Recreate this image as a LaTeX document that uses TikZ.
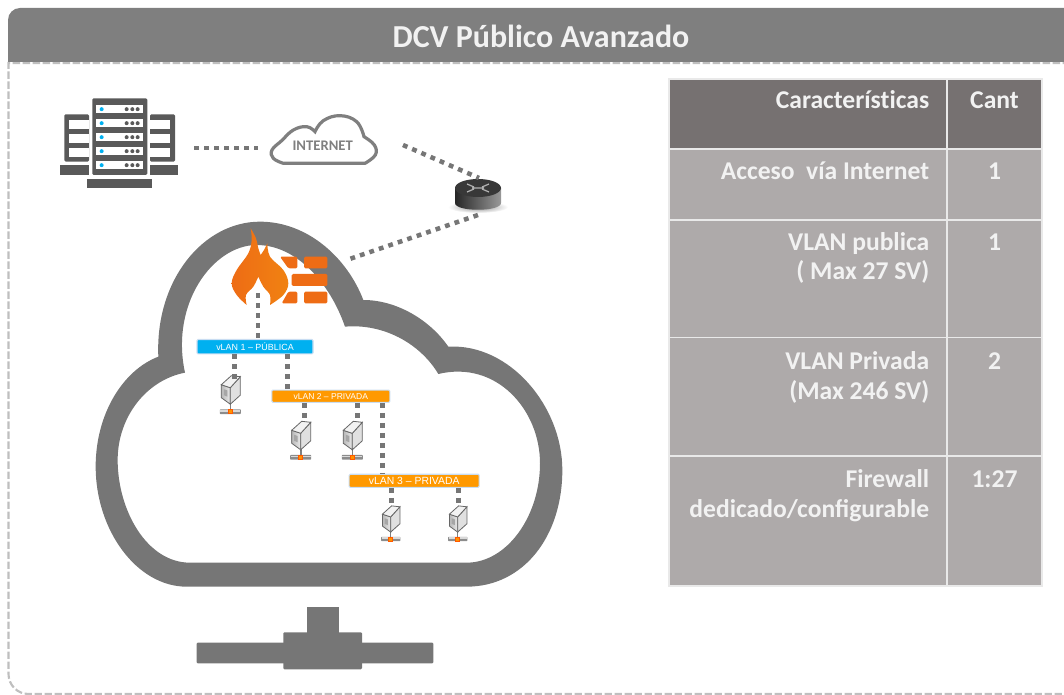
\documentclass[tikz,border=0pt]{standalone}
\usepackage{fontspec}
\setmainfont{Carlito}
\newfontfamily\arialf{Liberation Sans}
\usetikzlibrary{calc}
\definecolor{cloudgray}{HTML}{767676}
\definecolor{titlegray}{HTML}{7F7F7F}
\definecolor{panelgray}{HTML}{BFBFBF}
\definecolor{headgray}{HTML}{767171}
\definecolor{bodygray}{HTML}{AEAAAA}
\definecolor{linegray}{HTML}{E9E9E9}
\definecolor{icongray}{HTML}{595959}
\definecolor{fireor}{HTML}{EE6C15}
\definecolor{vcyan}{HTML}{00B0F0}
\definecolor{vorange}{HTML}{FF9900}
\definecolor{vedge}{HTML}{C9DDF2}
\tikzset{
  dotline/.style={draw=cloudgray,line width=3.4pt,dash pattern=on 3.6pt off 3.9pt},
  vlanbar/.style={rounded corners=.8pt,draw=vedge,line width=.8pt,text=white,inner sep=0pt,anchor=center},
  headcell/.style={fill=headgray,draw=linegray,line width=1.4pt},
  bodycell/.style={fill=bodygray,draw=linegray,line width=1.4pt},
  celltext/.style={text=white!95!black,font=\bfseries\fontsize{19.2}{22}\selectfont,anchor=base east,inner sep=0pt},
  cntext/.style={text=white!95!black,font=\bfseries\fontsize{19.2}{22}\selectfont,anchor=base,inner sep=0pt},
  pics/srv/.style={code={
    \fill[black!50] (-.8,-9) rectangle (.8,-1);
    \shade[left color=black!28,right color=black!8,draw=black!60,line width=.6pt] (-9,-27) -- (0,-24) -- (0,-7.5) -- (-9,-14) -- cycle;
    \draw[line width=.6pt,black!60,fill=black!12] (0,-24) -- (10,-35) -- (10,-16.5) -- (0,-7.5) -- cycle;
    \draw[line width=.6pt,black!60,fill=black!5] (-9,-27) -- (1,-36) -- (10,-35) -- (0,-24) -- cycle;
    \fill[black!35] (-6.5,-22.5) -- (-3,-21.3) -- (-3,-15) -- (-6.5,-16.5) -- cycle;
    \fill[black!45,rounded corners=.5pt] (-10.5,-2.4) rectangle (10.5,2.4);
    \fill[black!15] (-10,-1.8) rectangle (10,-.2);
    \fill[orange!85!yellow,draw=orange!70!red,line width=.7pt] (-2.2,-2.2) rectangle (2.2,2.2);
  }}
}
\begin{document}
\begin{tikzpicture}[x=.75pt,y=-.75pt]
\useasboundingbox (0,0) rectangle (1064,695);
% panel
\draw[panelgray,line width=1.6pt,dash pattern=on 5.5pt off 2pt,rounded corners=15pt]
  (1070,63) [sharp corners] -- (8.5,63) [rounded corners=15pt] -- (8.5,694) [sharp corners] -- (1070,694);
% title
\fill[titlegray] (8,62) [rounded corners=9pt] -- (8,8) [sharp corners] -- (1066,8) -- (1066,62) -- cycle;
\node[text=white!95!black,font=\bfseries\fontsize{24}{28}\selectfont,inner sep=0pt,anchor=base] (title) at (541,47.5) {DCV Público Avanzado};
% big cloud
\begin{scope}[shift={(80,210)},x=.25pt,y=-.25pt]
\fill[cloudgray,even odd rule]
 (235,440) .. controls (225,210) and (370,35) .. (540,35)
 .. controls (680,35) and (800,140) .. (850,270)
 .. controls (950,270) and (1050,330) .. (1105,410)
 .. controls (1290,400) and (1447,590) .. (1447,780)
 .. controls (1447,980) and (1330,1130) .. (1160,1130)
 -- (320,1130)
 .. controls (170,1130) and (47,960) .. (47,770)
 .. controls (47,610) and (130,480) .. (235,440) -- cycle
 (315,488) .. controls (270,280) and (400,105) .. (530,105)
 .. controls (650,105) and (750,220) .. (795,350)
 .. controls (910,340) and (1020,400) .. (1075,492)
 .. controls (1250,450) and (1380,600) .. (1380,760)
 .. controls (1380,920) and (1280,1058) .. (1160,1058)
 -- (330,1058)
 .. controls (200,1058) and (113,900) .. (113,750)
 .. controls (113,620) and (200,510) .. (315,488) -- cycle;
\end{scope}
% stand
\fill[cloudgray,rounded corners=.8pt] (196.7,642.7) rectangle (433.3,663.3);
\fill[cloudgray,rounded corners=.8pt] (283.3,632.3) rectangle (362,669.3);
\fill[cloudgray] (306.7,606.7) rectangle (339.3,633);
% firewall
\begin{scope}[shift={(220,220)},x=.25pt,y=-.25pt]
\fill[fireor,rounded corners=1pt] (180,110) -- (232,110) -- (232,145) -- (205,145) -- cycle;
\fill[fireor,rounded corners=1pt] (252,110) rectangle (322,145);
\fill[fireor,rounded corners=1pt] (215,162) rectangle (322,198);
\fill[fireor,rounded corners=1pt] (205,215) -- (232,215) -- (232,250) -- (185,250) -- cycle;
\fill[fireor,rounded corners=1pt] (252,215) rectangle (322,250);
\shade[left color=fireor,right color=fireor!85!yellow,draw=none]
 plot[smooth,tension=.6] coordinates {(92,25)(108,55)(115,85)(122,105)}
 -- plot[smooth,tension=.6] coordinates {(122,105)(132,90)(142,70)}
 -- plot[smooth,tension=.6] coordinates {(142,70)(150,110)(190,150)(205,190)(190,225)(150,255)}
 -- plot[smooth,tension=.6] coordinates {(150,255)(150,225)(130,200)(115,170)}
 -- plot[smooth,tension=.6] coordinates {(115,170)(100,200)(78,225)(80,255)}
 -- plot[smooth,tension=.6] coordinates {(80,255)(50,225)(35,190)(50,150)(85,100)(95,60)(92,25)}
 -- cycle;
\end{scope}
\coordinate (fw) at (258,293);
\coordinate (fwright) at (346.7,260);
% big server icon
\begin{scope}[shift={(40,80)},x=.25pt,y=-.25pt]
\fill[icongray,rounded corners=1pt] (157,55) rectangle (322,285);
\foreach \y in {75,117,159,201,243}{
  \fill[white] (168,\y) rectangle (310,\y+25);
  \fill[vcyan] (185,\y+12.5) circle[radius=6];
  \foreach \x in {260,277,293} \fill[icongray] (\x,\y+12.5) circle[radius=6];
}
\fill[icongray,rounded corners=1pt] (73,103) rectangle (147,245);
\fill[icongray,rounded corners=1pt] (330,103) rectangle (405,245);
\foreach \y in {120,163,205}{
  \fill[white] (87,\y) rectangle (147,\y+27);
  \fill[white] (330,\y) rectangle (391,\y+27);
}
\fill[icongray] (60,256) rectangle (147,285);
\fill[icongray] (330,256) rectangle (415,285);
\fill[icongray] (140,297) rectangle (337,325);
\end{scope}
\coordinate (bigsrv) at (194,148);
% small cloud
\begin{scope}[shift={(40,80)},x=.25pt,y=-.25pt]
\draw[titlegray,line width=2.4pt] plot[smooth,tension=.7] coordinates {(730,250)(700,235)(696,210)(725,182)(760,150)(800,140)(825,155)}
 -- plot[smooth,tension=.7] coordinates {(825,155)(850,122)(900,107)(950,125)(972,170)}
 -- plot[smooth,tension=.7] coordinates {(972,170)(1003,195)(1006,225)(975,250)} -- cycle;
\node[text=titlegray,font=\bfseries\fontsize{11}{13}\selectfont,inner sep=0pt] (internet) at (848,197) {INTERNET};
\end{scope}
\coordinate (inetL) at (258,148);
\coordinate (inetR) at (403,145);
% router
\shade[inner color=black!45,outer color=white] (478,207) ellipse[x radius=30,y radius=6];
\shade[left color=black!85,right color=black!40] (455,188) -- (455,203) .. controls (455,212) and (501,212) .. (501,203) -- (501,188) -- cycle;
\fill[black!78] (478,188) ellipse[x radius=23,y radius=9];
\draw[black!30,line width=.9pt] (467,184) -- (474,187) (467,192) -- (474,189) (489,184) -- (482,187) (489,192) -- (482,189) (472,188) -- (484,188);
\coordinate (routerT) at (479,178);
\coordinate (routerB) at (478,215);
% vlan bars
\node[vlanbar,fill=vcyan,minimum width=87pt,minimum height=10.8pt,font=\arialf\fontsize{6.7}{8}\selectfont] (v1) at (255,346.7) {vLAN 1 – PÚBLICA};
\node[vlanbar,fill=vorange,minimum width=88.5pt,minimum height=9.2pt,font=\arialf\fontsize{6.4}{8}\selectfont] (v2) at (330.8,396.2) {vLAN 2 – PRIVADA};
\node[vlanbar,fill=vorange,minimum width=97.5pt,minimum height=9.8pt,font=\arialf\fontsize{7.8}{9}\selectfont] (v3) at (414.2,480.8) {vLAN 3 – PRIVADA};
% servers
\pic at (230.3,411.7) {srv};
\pic at (300.7,457.3) {srv};
\pic at (352.3,457.3) {srv};
\pic[scale=.92] at (390.7,539) {srv};
\pic[scale=.92] at (457.7,539) {srv};
\coordinate (s1) at (234.3,380);
\coordinate (s2) at (304.3,421);
\coordinate (s3) at (357.7,419);
\coordinate (s4) at (391.3,506);
\coordinate (s5) at (458.3,506);
\coordinate (l12) at (287.7,389);
\coordinate (l23) at (382.3,473);
% connectors
\draw[dotline] (bigsrv) -- (inetL);
\draw[dotline] (inetR) -- (routerT);
\draw[dotline] (routerB) -- (fwright);
\draw[dotline] (fw) -- (fw |- v1.north);
\draw[dotline] (s1 |- v1.south) -- (s1);
\draw[dotline] (l12 |- v1.south) -- (l12);
\draw[dotline] (s2 |- v2.south) -- (s2);
\draw[dotline] (s3 |- v2.south) -- (s3);
\draw[dotline] (l23 |- v2.south) -- (l23);
\draw[dotline] (s4 |- v3.south) -- (s4);
\draw[dotline] (s5 |- v3.south) -- (s5);
% table
\draw[headcell] (669.3,79) rectangle (946.7,149);
\draw[headcell] (946.7,79) rectangle (1042.3,149);
\draw[bodycell] (669.3,149) rectangle (946.7,219.7);
\draw[bodycell] (946.7,149) rectangle (1042.3,219.7);
\draw[bodycell] (669.3,219.7) rectangle (946.7,337.5);
\draw[bodycell] (946.7,219.7) rectangle (1042.3,337.5);
\draw[bodycell] (669.3,337.5) rectangle (946.7,456);
\draw[bodycell] (946.7,337.5) rectangle (1042.3,456);
\draw[bodycell] (669.3,456) rectangle (946.7,586);
\draw[bodycell] (946.7,456) rectangle (1042.3,586);
\node[celltext] (c0) at (929.5,109) {\addfontfeatures{Ligatures=NoCommon}Características};
\node[celltext] (c1) at (929.5,180) {Acceso\ \ vía Internet};
\node[celltext] (c2a) at (929.5,251) {VLAN publica};
\node[celltext] (c2b) at (929.5,280) {( Max 27 SV)};
\node[celltext] (c3a) at (929.5,369) {VLAN Privada};
\node[celltext] (c3b) at (929.5,399) {(Max 246 SV)};
\node[celltext] (c4a) at (929.5,487) {Firewall};
\node[celltext] (c4b) at (929.5,517) {dedicado/configurable};
\node[cntext] (n0) at (994.5,109) {Cant};
\node[cntext] (n1) at (994.5,180) {1};
\node[cntext] (n2) at (994.5,251) {1};
\node[cntext] (n3) at (994.5,369) {2};
\node[cntext] (n4) at (994.5,487) {1:27};
\end{tikzpicture}
\end{document}
